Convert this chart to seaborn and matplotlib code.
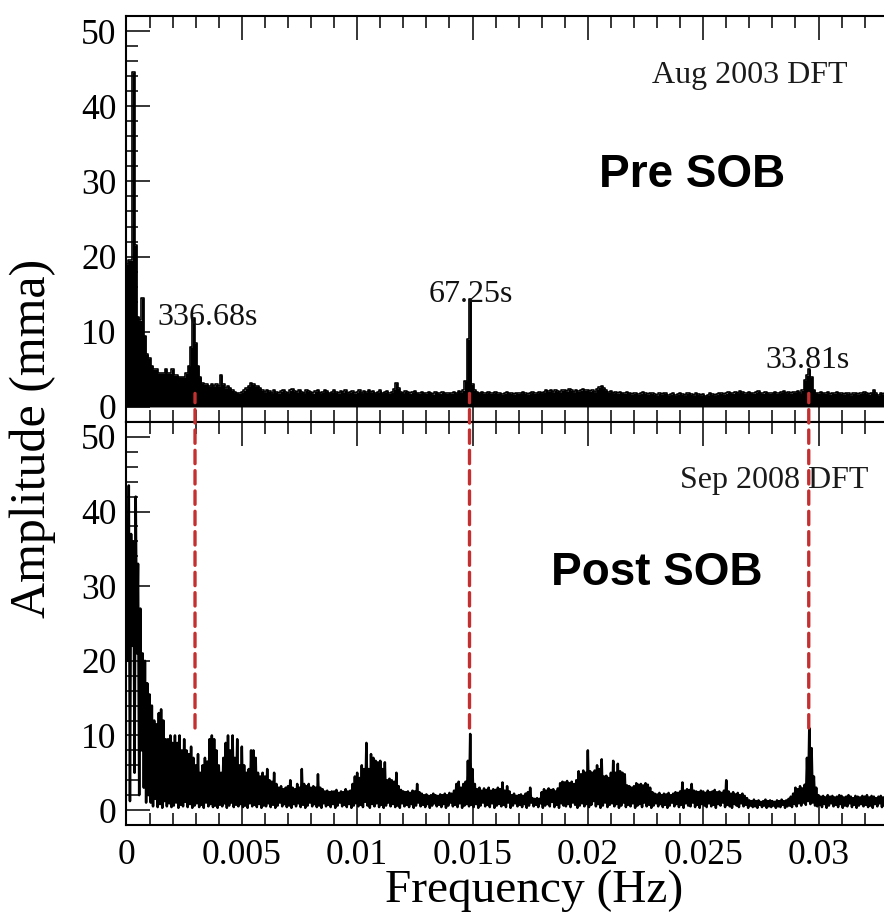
import numpy as np
import pandas as pd
import matplotlib
matplotlib.use("Agg")
import matplotlib.pyplot as plt
import seaborn as sns
from matplotlib.patches import ConnectionPatch
from matplotlib.ticker import MultipleLocator, FixedLocator

# ---------------- data ----------------
freq_step = 0.0001

# Aug 2003 DFT (pre SOB) amplitude, mma, at 0, 0.0001, 0.0002 ... Hz
pre_amp = [
    19, 19.5, 19.5, 44.5, 21.5, 12, 11.5, 14.5, 9.5, 7,
    6.5, 5.5, 5, 5, 4.5, 4.5, 4.5, 5, 4.5, 4.5,
    5, 4.2, 4.2, 4, 4, 4, 4.5, 5.5, 8, 11.8,
    8.5, 5.5, 4, 3.2, 3, 3, 2.8, 3, 2.8, 3,
    2.8, 4.2, 3, 2.5, 2.8, 2.5, 2.2, 2, 1.9, 1.8,
    2, 2.2, 2.5, 2.8, 3.2, 3, 2.8, 2.8, 2.5, 2.2,
    2, 2.3, 2.1, 1.9, 2.2, 2.0, 1.8, 2.1, 2.3, 2.0,
    1.9, 2.2, 2.4, 2.1, 2.0, 2.3, 2.0, 1.9, 2.2, 2.1,
    2.0, 1.8, 2.1, 2.2, 1.9, 2.0, 2.3, 2.1, 1.9, 2.0,
    2.2, 2.0, 1.8, 2.1, 2.0, 2.2, 1.9, 2.0, 2.1, 1.8,
    2.0, 2.2, 1.9, 2.1, 2.0, 2.3, 2.0, 2.1, 1.9, 2.0,
    2.2, 1.9, 2.0, 2.1, 1.8, 2.0, 2.4, 3.2, 2.5, 2.0,
    1.9, 2.1, 2.0, 1.8, 2.0, 2.1, 1.9, 1.8, 2.0, 1.9,
    1.8, 2.0, 1.9, 1.7, 2.0, 1.9, 1.8, 2.0, 1.9, 1.8,
    1.9, 1.8, 2.0, 1.9, 2.1, 2.0, 2.2, 3.5, 9.0, 14.3,
    3.0, 2.2, 2.0, 1.9, 2.0, 1.8, 1.9, 2.0, 1.8, 1.9,
    2.0, 1.8, 1.9, 1.7, 1.8, 2.0, 1.9, 1.8, 1.7, 1.9,
    1.8, 1.9, 2.0, 1.8, 1.7, 1.9, 2.0, 1.8, 1.9, 2.0,
    1.9, 2.0, 2.2, 2.1, 2.3, 2.0, 2.2, 2.1, 2.0, 2.2,
    2.3, 2.1, 2.4, 2.2, 2.0, 2.3, 2.1, 2.2, 2.4, 2.2,
    2.3, 2.1, 2.2, 2.0, 2.4, 2.6, 2.8, 2.5, 2.2, 2.0,
    2.1, 1.9, 2.0, 1.8, 2.0, 1.9, 1.8, 2.0, 1.9, 1.7,
    1.8, 1.9, 1.7, 1.8, 2.0, 1.8, 1.7, 1.9, 1.8, 1.7,
    1.6, 1.8, 1.7, 1.9, 1.8, 1.6, 1.7, 1.8, 1.6, 1.7,
    1.8, 1.7, 1.6, 1.8, 1.9, 1.7, 1.6, 1.8, 1.7, 1.6,
    1.7, 1.5, 1.6, 1.8, 1.7, 1.6, 1.7, 1.9, 1.8, 1.7,
    1.8, 2.0, 1.9, 1.8, 2.0, 1.9, 2.1, 2.0, 1.8, 1.9,
    2.0, 1.9, 1.8, 2.0, 2.1, 1.9, 1.8, 2.0, 1.9, 1.8,
    1.9, 2.0, 1.8, 1.9, 2.0, 2.1, 1.9, 2.0, 1.8, 2.0,
    2.0, 2.1, 1.9, 2.2, 3.6, 4.2, 5.0, 4.0, 2.3, 1.9,
    1.8, 2.0, 1.9, 1.8, 2.0, 1.7, 1.9, 1.8, 2.0, 1.9,
    1.8, 1.7, 1.9, 1.8, 1.6, 1.8, 1.9, 1.7, 1.8, 1.9,
    2.0, 1.8, 1.7, 1.9, 2.2, 1.8, 1.6, 1.8, 1.7, 1.8,
    1.9, 1.8, 1.7, 1.8, 1.9, 1.8,
]

# Sep 2008 DFT (post SOB): upper and lower edge of the noisy trace per bin
post_hi = [
    37, 43.5, 37, 36, 42, 33, 27, 21, 20, 17,
    15.5, 14, 12, 11.5, 13, 13.5, 12, 9.5, 9.5, 10,
    9, 10, 9, 10, 8, 9.5, 8, 7.5, 8.5, 7,
    6, 7.5, 5, 6, 7, 6.5, 9.5, 10, 9.5, 8,
    6, 5, 7, 9, 10, 8, 10, 7, 9.5, 6,
    8.5, 6, 5, 5.5, 8, 8, 7, 5, 4.5, 5,
    4.5, 5.5, 4, 3.8, 5, 3.5, 3, 3.2, 2.8, 3,
    3.2, 4, 3, 2.8, 3.5, 3, 5.5, 3.5, 3.2, 3.5,
    3, 3.2, 3, 4.8, 3, 2.8, 2.5, 2.6, 2.4, 2.5,
    2.5, 2.7, 2.3, 2.5, 2.4, 2.8, 2.5, 2.6, 3.5, 4.5,
    5, 4.3, 6, 5.5, 9, 5.5, 7.5, 7, 6.6, 6.4,
    6.6, 5.5, 6.4, 4, 4.2, 4, 3.8, 5, 3.2, 2.7,
    2.5, 2.4, 2.5, 2.3, 2.6, 2.5, 3.5, 2.4, 2.2, 2.0,
    2.1, 1.9, 2.0, 2.2, 2.0, 1.9, 2.1, 2.0, 2.2, 2.0,
    2.3, 2.2, 2.6, 3.5, 3.8, 3.0, 3.5, 3.8, 6.6, 10.2,
    5.5, 3.5, 2.8, 3.0, 2.6, 2.9, 2.7, 3.0, 2.6, 2.8,
    2.7, 3.0, 2.8, 3.7, 2.6, 3.2, 2.5, 2.0, 2.2, 1.9,
    2.0, 2.1, 1.9, 2.2, 2.4, 3.0, 1.6, 1.5, 1.6, 1.5,
    2.4, 2.8, 2.6, 2.9, 2.7, 2.8, 2.5, 2.9, 3.6, 3.8,
    3.7, 3.9, 3.6, 3.8, 3.5, 4.0, 5.2, 4.8, 5.3, 5.0,
    8.0, 5.2, 5.0, 5.3, 6.0, 5.5, 6.8, 4.5, 4.6, 4.3,
    5.0, 6.6, 5.0, 6.2, 5.2, 5.0, 4.8, 3.3, 3.2, 3.0,
    3.2, 3.6, 3.4, 3.5, 3.3, 3.6, 3.4, 3.0, 2.4, 2.2,
    2.1, 2.3, 2.0, 2.2, 2.1, 2.3, 2.0, 2.2, 2.4, 2.3,
    2.5, 3.7, 2.6, 2.8, 2.7, 3.5, 2.6, 2.5, 2.4, 2.6,
    2.5, 2.3, 2.6, 2.4, 2.5, 2.7, 2.4, 2.5, 2.3, 2.6,
    4.0, 2.5, 2.2, 2.4, 2.1, 2.3, 2.0, 2.2, 1.9, 1.6,
    1.3, 1.2, 1.4, 1.2, 1.3, 1.1, 1.2, 1.4, 1.2, 1.3,
    1.2, 1.1, 1.3, 1.2, 1.4, 1.2, 1.3, 1.5, 1.8, 2.2,
    3.0, 2.8, 3.2, 2.9, 3.4, 7.0, 11.0, 8.3, 4.5, 3.0,
    2.0, 1.8, 1.9, 1.7, 2.0, 1.8, 1.9, 1.7, 1.8, 2.0,
    1.9, 1.7, 1.8, 2.0, 1.8, 1.6, 1.9, 1.8, 1.7, 1.9,
    1.8, 2.0, 1.7, 1.9, 1.8, 1.6, 1.8, 1.9, 1.7, 1.8,
    1.9, 1.7, 1.8, 1.9, 1.8, 1.7,
]
post_lo = [
    20, 1.2, 22, 5, 21, 2, 8, 3, 1, 2,
    1, 0.5, 1.5, 0.4, 0.8, 0.3, 1.2, 0.5, 0.9, 0.4,
    0.6, 1.0, 0.3, 0.7, 0.5, 1.1, 0.4, 0.8, 0.3, 0.6,
    0.9, 0.4, 0.7, 0.3, 1.0, 0.5, 0.8, 0.4, 0.6, 0.3,
    0.7, 0.5, 0.9, 0.3, 0.6, 1.0, 0.4, 0.7, 0.5, 0.8,
    0.4, 0.6, 0.3, 0.9, 0.5, 0.7, 0.4, 0.8, 0.3, 0.6,
    0.5, 0.9, 0.4, 0.7, 0.3, 0.6, 1.0, 0.5, 0.8, 0.4,
    0.6, 0.3, 0.8, 0.5, 0.9, 0.4, 0.7, 0.3, 0.6, 1.0,
    0.5, 0.8, 0.4, 0.6, 0.3, 0.9, 0.5, 0.7, 0.4, 0.8,
    0.3, 0.6, 1.0, 0.5, 0.7, 0.4, 0.8, 0.3, 0.6, 0.9,
    0.5, 0.7, 0.4, 1.1, 0.6, 0.3, 0.8, 0.5, 0.9, 0.4,
    0.7, 0.3, 0.6, 1.0, 0.5, 0.8, 0.4, 0.6, 0.3, 0.9,
    0.5, 0.7, 0.4, 0.8, 0.3, 0.6, 1.0, 0.5, 0.7, 0.4,
    0.8, 0.3, 0.6, 0.9, 0.5, 0.7, 0.4, 0.8, 0.3, 0.6,
    1.0, 0.5, 0.7, 0.4, 0.9, 0.3, 0.6, 0.8, 0.5, 0.7,
    0.4, 0.8, 0.3, 0.6, 1.0, 0.5, 0.7, 0.4, 0.9, 0.3,
    0.6, 0.8, 0.5, 0.7, 0.4, 1.0, 0.3, 0.6, 0.9, 0.5,
    0.7, 0.4, 0.8, 0.3, 0.6, 1.0, 0.5, 0.7, 0.4, 0.9,
    0.3, 0.6, 0.8, 0.5, 1.1, 0.4, 0.7, 0.3, 0.9, 0.6,
    0.5, 0.8, 0.4, 1.0, 0.7, 0.3, 0.6, 0.9, 0.5, 0.8,
    0.4, 0.7, 1.2, 0.5, 0.8, 0.3, 0.6, 1.0, 0.4, 0.7,
    0.9, 0.5, 0.8, 0.3, 0.6, 1.0, 0.4, 0.7, 0.5, 0.9,
    0.3, 0.6, 0.8, 0.4, 1.0, 0.5, 0.7, 0.3, 0.6, 0.9,
    0.5, 0.8, 0.4, 0.7, 0.3, 0.6, 1.0, 0.5, 0.8, 0.4,
    0.7, 0.3, 0.9, 0.6, 0.5, 1.0, 0.4, 0.7, 0.3, 0.8,
    0.6, 0.4, 0.9, 0.5, 0.7, 0.3, 0.8, 0.6, 1.0, 0.4,
    0.7, 0.5, 0.3, 0.8, 0.6, 0.4, 0.9, 0.5, 0.7, 0.3,
    0.6, 0.4, 0.5, 0.3, 0.7, 0.4, 0.6, 0.3, 0.5, 0.4,
    0.6, 0.3, 0.5, 0.4, 0.7, 0.3, 0.5, 0.6, 0.4, 0.8,
    0.5, 0.9, 0.6, 1.0, 0.7, 1.2, 0.8, 1.0, 0.6, 0.5,
    0.7, 0.4, 0.8, 0.3, 0.6, 0.9, 0.5, 0.7, 0.4, 0.8,
    0.3, 0.6, 0.5, 0.9, 0.4, 0.7, 0.3, 0.6, 0.8, 0.5,
    0.7, 0.4, 0.6, 0.3, 0.8, 0.5, 0.9, 0.4, 0.6, 0.3,
    0.7, 0.5, 0.8, 0.4, 0.6, 0.5,
]

peak_periods = [336.68, 67.25, 33.81]          # s
peak_labels = ["336.68s", "67.25s", "33.81s"]
peak_label_pos = [(0.00352, 10.9), (0.01494, 14.0), (0.02954, 5.2)]
x_ticks = [0, 0.005, 0.01, 0.015, 0.02, 0.025, 0.03]
x_tick_labels = ["0", "0.005", "0.01", "0.015", "0.02", "0.025", "0.03"]
y_ticks = [0, 10, 20, 30, 40, 50]
y_tick_labels = ["0", "10", "20", "30", "40", "50"]

n = min(len(pre_amp), len(post_hi), len(post_lo))
freq = np.arange(n) * freq_step
pre_df = pd.DataFrame({"freq": freq, "amp": np.asarray(pre_amp[:n], float)})
# noisy post-SOB trace: alternate upper and lower edge inside every bin
zig_f = np.empty(2 * n)
zig_a = np.empty(2 * n)
zig_f[0::2] = freq
zig_f[1::2] = freq + freq_step / 2
zig_a[0::2] = post_hi[:n]
zig_a[1::2] = post_lo[:n]
post_df = pd.DataFrame({"freq": zig_f, "amp": zig_a})

# ---------------- style ----------------
sns.set_theme(style="ticks")
plt.rcParams["font.family"] = ["Liberation Serif", "DejaVu Serif"]
plt.rcParams["axes.linewidth"] = 1.5
plt.rcParams["text.color"] = "black"
plt.rcParams["xtick.color"] = "black"
plt.rcParams["ytick.color"] = "black"
plt.rcParams["xtick.labelcolor"] = "black"
plt.rcParams["ytick.labelcolor"] = "black"

W, H = 884, 922
fig = plt.figure(figsize=(W / 100, H / 100), dpi=100)

px_per_hz = 23067.0
x_max = 0.035
left_px = 126.5
right_px = left_px + x_max * px_per_hz


def rect(l, t, r, b):
    return [l / W, 1 - b / H, (r - l) / W, (b - t) / H]


ax1 = fig.add_axes(rect(left_px, 16, right_px, 422))
ax2 = fig.add_axes(rect(left_px, 422, right_px, 825))

# top spectrum: filled bars
ax1.fill_between(pre_df["freq"], 0, pre_df["amp"], step="mid", color="black", lw=0)
sns.lineplot(data=pre_df, x="freq", y="amp", ax=ax1, color="black", lw=1.2,
             drawstyle="steps-mid", estimator=None, sort=False)
# bottom spectrum: dense jagged trace
sns.lineplot(data=post_df, x="freq", y="amp", ax=ax2, color="black", lw=1.8,
             estimator=None, sort=False)

tick_fs = 25.5
for ax in (ax1, ax2):
    ax.set_xlim(0, x_max)
    ax.set_ylim(-2, 52)
    ax.xaxis.set_major_locator(FixedLocator(x_ticks))
    ax.xaxis.set_minor_locator(MultipleLocator(0.001))
    ax.yaxis.set_major_locator(FixedLocator(y_ticks))
    ax.yaxis.set_minor_locator(MultipleLocator(2))
    ax.set_yticklabels(y_tick_labels)
    ax.tick_params(which="both", direction="in", top=True, bottom=True,
                   left=True, right=False, width=1.1, color="black",
                   labelcolor="black")
    ax.tick_params(which="major", length=17)
    ax.tick_params(which="minor", length=8.6)
    ax.tick_params(axis="y", labelsize=tick_fs, pad=7)
    ax.tick_params(axis="x", labelsize=tick_fs, pad=10)
    ax.set_xlabel("")
    ax.set_ylabel("")
    for s in ax.spines.values():
        s.set_linewidth(1.5)
        s.set_color("black")

ax1.tick_params(axis="x", labelbottom=False)
ax2.set_xticklabels(x_tick_labels)

# annotations
for lab, (fx, fy) in zip(peak_labels, peak_label_pos):
    ax1.text(fx, fy, lab, ha="center", va="baseline", fontsize=23, color="#111111")
ax1.text(0.0270, 43.1, "Aug 2003 DFT", ha="center", va="baseline", fontsize=23, color="#1a1a1a")
ax2.text(0.0281, 43.2, "Sep 2008 DFT", ha="center", va="baseline", fontsize=23, color="#1a1a1a")
ax1.text(0.02452, 29.3, "Pre SOB", ha="center", va="baseline", fontsize=33,
         fontweight="bold", color="black", family=["Liberation Sans", "DejaVu Sans"])
ax2.text(0.0230, 30.2, "Post SOB", ha="center", va="baseline", fontsize=33,
         fontweight="bold", color="black", family=["Liberation Sans", "DejaVu Sans"])

# red dashed markers linking the peaks between panels
for p in peak_periods:
    f = 1.0 / p
    con = ConnectionPatch(xyA=(f, 11), coordsA=ax2.transData,
                          xyB=(f, 1.8), coordsB=ax1.transData,
                          color="#c3302f", lw=2.4, linestyle=(0, (4.0, 2.1)),
                          zorder=10)
    fig.add_artist(con)

fig.text(33 / W, 1 - 438 / H, "Amplitude (mma)", rotation=90, ha="center",
         va="center", fontsize=36, color="black")
fig.text(534 / W, 1 - 902 / H, "Frequency (Hz)", ha="center", va="baseline",
         fontsize=34, color="black")

fig.savefig("out.png", dpi=100)
